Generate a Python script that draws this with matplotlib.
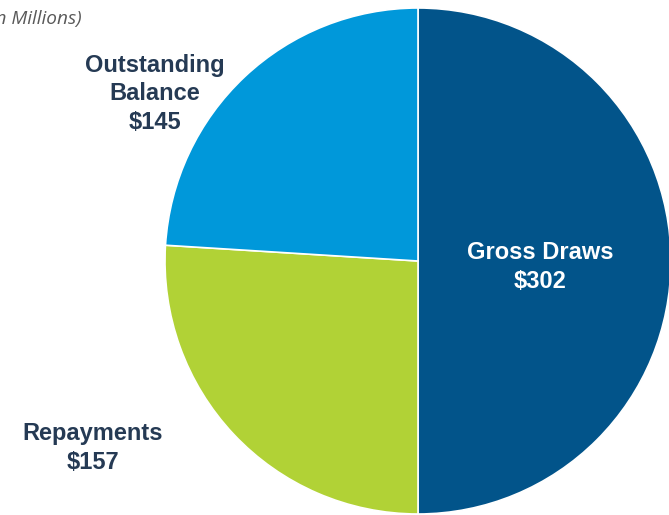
import matplotlib
matplotlib.use('Agg')
import matplotlib.pyplot as plt

labels = ['Gross Draws', 'Repayments', 'Outstanding\nBalance']
values = [302, 157, 145]
colors = ['#02548a', '#b1d236', '#0098da']

W, H = 669, 515
fig = plt.figure(figsize=(W / 100, H / 100), dpi=100)
ax = fig.add_axes([0, 0, 1, 1])

# pie centre / radius in pixel units (y measured from the bottom)
cx, cy, r = 418, H - 261, 253
ax.pie(values, colors=colors, startangle=90, counterclock=False,
       center=(cx, cy), radius=r, frame=True,
       wedgeprops=dict(edgecolor='white', linewidth=1.2))
ax.set_xlim(0, W)
ax.set_ylim(0, H)
ax.set_aspect('equal')
ax.axis('off')

txt = '#253a54'
font = dict(family='Liberation Sans', fontsize=17, fontweight='bold',
            ha='center', va='center', linespacing=1.32)
ax.text(540, H - 267, '%s\n$%d' % (labels[0], values[0]), color='white', **font)
ax.text(93, H - 448, '%s\n$%d' % (labels[1], values[1]), color=txt, **font)
ax.text(155, H - 94, '%s\n$%d' % (labels[2], values[2]), color=txt, **font)

ax.text(82, H - 19, '(In Millions)', family='Open Sans', style='italic',
        fontsize=13.7, color='#595959', ha='right', va='center')

fig.savefig('out.png', dpi=100)
